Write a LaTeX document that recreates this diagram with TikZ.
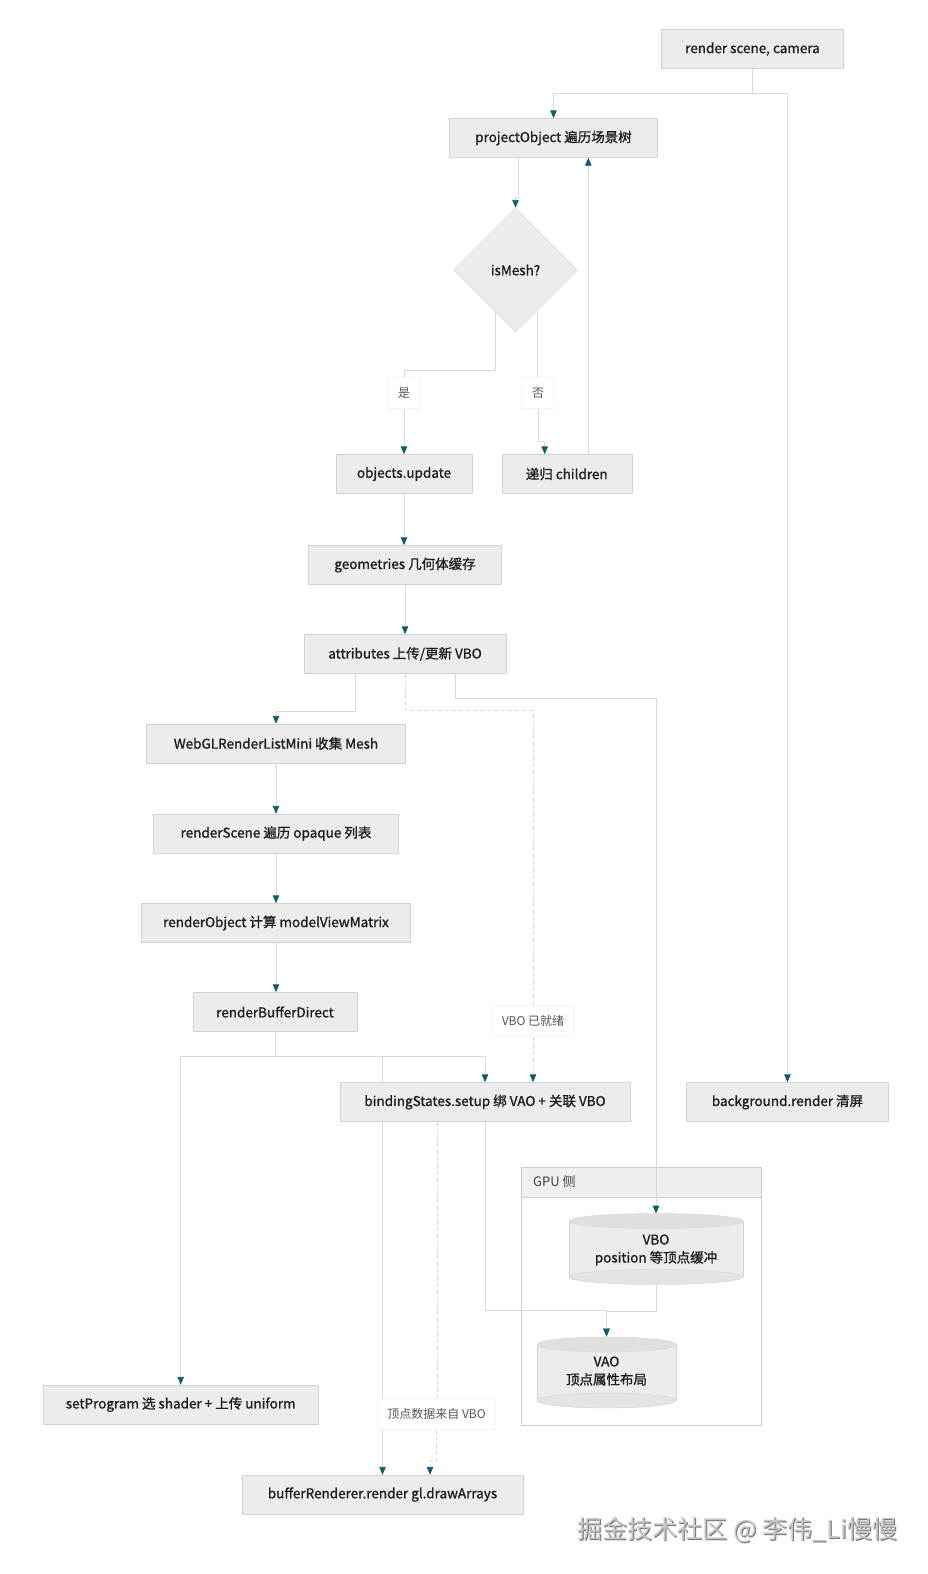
\documentclass[tikz,border=0pt]{standalone}
\usepackage{fontspec}
\setmainfont{Noto Sans CJK SC}
\newfontfamily\bxfont{Noto Sans CJK SC}[FakeBold=1.2]
\usetikzlibrary{arrows.meta,shapes.geometric}
\definecolor{boxfill}{HTML}{ECECEC}
\definecolor{boxline}{HTML}{D2D2D2}
\definecolor{lineC}{HTML}{D9D9D9}
\definecolor{tipC}{HTML}{0E5F66}
\definecolor{lblline}{HTML}{E2E2E2}
\definecolor{lbltext}{HTML}{555555}
\definecolor{grpline}{HTML}{CCCCCC}
\definecolor{hdrfill}{HTML}{EFEFEF}
\definecolor{cyltop}{HTML}{E0E0E0}
\definecolor{cylbot}{HTML}{E4E4E4}
\definecolor{txt}{HTML}{1E1E1E}
\pgfdeclarelayer{grp}
\pgfdeclarelayer{lines}
\pgfsetlayers{grp,lines,main}
\tikzset{
  box/.style={draw=boxline, fill=boxfill, minimum height=39pt, inner sep=0pt,
    font=\bxfont\fontsize{13.5}{16}\selectfont, text=txt},
  dia/.style={shape=diamond, draw=boxline, fill=boxfill, minimum width=124pt,
    minimum height=124pt, inner sep=0pt, aspect=1, font=\bxfont\fontsize{13.5}{16}\selectfont, text=txt},
  lbl/.style={draw=lblline, fill=white, rounded corners=2pt, minimum height=31pt,
    inner sep=0pt, font=\fontsize{12}{14}\selectfont, text=lbltext},
  cyltext/.style={inner sep=0pt, align=center, font=\bxfont\fontsize{13.5}{18}\selectfont, text=txt},
  ln/.style={draw=lineC, line width=0.9pt},
  conn/.style={ln, -{Triangle[length=8pt,width=6.5pt,color=tipC]}},
  dln/.style={ln, dash pattern=on 4pt off 3pt},
  dconn/.style={conn, dash pattern=on 4pt off 3pt},
}
\begin{document}
\begin{tikzpicture}[x=1pt,y=-1pt]
\useasboundingbox (0,0) rectangle (928,1574);
% nodes
\node[box, minimum width=182] (rsc) at (752.5,49) {render scene, camera};
\node[box, minimum width=208] (proj) at (553.5,138) {projectObject 遍历场景树};
\node[dia] (ism) at (515.5,270) {isMesh?};
\node[lbl, minimum width=32] (yes) at (404,393) {是};
\node[lbl, minimum width=32] (no) at (538,393) {否};
\node[box, minimum width=136] (upd) at (404,474) {objects.update};
\node[box, minimum width=130] (chd) at (566.7,474) {递归 children};
\node[box, minimum width=193] (geo) at (405,565) {geometries 几何体缓存};
\node[box, minimum width=202] (attr) at (405,654) {attributes 上传/更新 VBO};
\node[box, minimum width=259] (rl) at (276,743.5) {WebGLRenderListMini 收集 Mesh};
\node[box, minimum width=245] (rs) at (276,833.5) {renderScene 遍历 opaque 列表};
\node[box, minimum width=269] (ro) at (276,923) {renderObject 计算 modelViewMatrix};
\node[box, minimum width=164] (rbd) at (275,1012) {renderBufferDirect};
\node[lbl, minimum width=81] (rdy) at (533,1021) {VBO 已就绪};
\node[box, minimum width=290] (bs) at (485,1102) {bindingStates.setup 绑 VAO + 关联 VBO};
\node[box, minimum width=202] (bg) at (787.5,1102) {background.render 清屏};
\node[box, minimum width=275] (sp) at (180.7,1404.5) {setProgram 选 shader + 上传 uniform};
\node[lbl, minimum width=118] (src) at (436.5,1414) {顶点数据来自 VBO};
\node[box, minimum width=281] (br) at (382.5,1494.5) {bufferRenderer.render gl.drawArrays};
% GPU group
\begin{pgfonlayer}{grp}
\node[draw=grpline, minimum width=239.5, minimum height=258, inner sep=0pt, anchor=north west] (gpu) at (521,1167) {};
\node[draw=grpline, fill=hdrfill, minimum width=239.5, minimum height=30, inner sep=0pt, anchor=north west] (gpuh) at (521,1167) {};
\end{pgfonlayer}
\node[anchor=west, inner sep=0pt, font=\fontsize{13}{15}\selectfont, text=txt!85] (gput) at (533,1182) {GPU 侧};
% VBO cylinder
\fill[boxfill] (569,1221) rectangle (743,1277);
\draw[boxline] (569,1221) -- (569,1277) (743,1221) -- (743,1277);
\draw[boxline, fill=cylbot] (656,1277) ellipse [x radius=87, y radius=7.5];
\draw[boxline, fill=cyltop] (656,1221) ellipse [x radius=87, y radius=7.5];
\node[minimum width=174, minimum height=71.5, inner sep=0pt] (vbo) at (656,1249.5) {};
\node[cyltext] (vbot) at (656,1250) {VBO\\position 等顶点缓冲};
% VAO cylinder
\fill[boxfill] (537,1344.5) rectangle (676,1400.5);
\draw[boxline] (537,1344.5) -- (537,1400.5) (676,1344.5) -- (676,1400.5);
\draw[boxline, fill=cylbot] (606.5,1400.5) ellipse [x radius=69.5, y radius=7.5];
\draw[boxline, fill=cyltop] (606.5,1344.5) ellipse [x radius=69.5, y radius=7.5];
\node[minimum width=139, minimum height=71.5, inner sep=0pt] (vao) at (606.5,1372.5) {};
\node[cyltext] (vaot) at (606.5,1371) {VAO\\顶点属性布局};
% watermark
\node[font=\fontsize{25}{28}\selectfont, text=black!55, inner sep=0pt] (wm0) at (738.5,1531) {掘金技术社区 @ 李伟\_Li慢慢};
\node[font=\fontsize{25}{28}\selectfont, text=black!22, inner sep=0pt] (wm) at (737.5,1530) {掘金技术社区 @ 李伟\_Li慢慢};
% connectors
\begin{pgfonlayer}{lines}
\draw[conn] (rsc.south) -- ++(0,24.5) -| (proj.north);
\draw[conn] (rsc.south) -- ++(0,24.5) -| (bg.north);
\draw[conn] ([xshift=-35]proj.south) -- ++(0,40) -| (ism.north);
\draw[ln] (ism.245.7) -- ++(0,58) -| (yes.north);
\draw[conn] (yes.south) -- (upd.north);
\draw[ln] (ism.298.8) -- (ism.298.8 |- no.north);
\draw[conn] (no.south) -- ++(0,33) -| ([xshift=-22]chd.north);
\draw[conn] ([xshift=21.6]chd.north) -- ([xshift=21.6]chd.north |- proj.south);
\draw[conn] (upd.south) -- (geo.north -| upd.south);
\draw[conn] (geo.south) -- (attr.north);
\draw[conn] ([xshift=-50]attr.south) -- ++(0,37.5) -| (rl.north);
\draw[dln] (attr.south) -- ++(0,37) -| (rdy.north);
\draw[dconn] (rdy.south) -- (rdy.south |- bs.north);
\draw[conn] ([xshift=50]attr.south) -- ++(0,24.5) -| (vbo.north);
\draw[conn] (rl.south) -- (rs.north);
\draw[conn] (rs.south) -- (ro.north);
\draw[conn] (ro.south) -- (ro.south |- rbd.north);
\draw[conn] (rbd.south) -- ++(0,25) -| (sp.north);
\draw[conn] (rbd.south) -- ++(0,25) -| (bs.north);
\draw[conn] (rbd.south) -- ++(0,25) -| (br.north);
\draw[conn] (bs.south) -- ++(0,189) -| (vao.north);
\draw[conn] (vbo.south) -- ++(0,26) -| (vao.north);
\draw[dln] ([xshift=-48]bs.south) -- ([xshift=-48]bs.south |- src.north);
\draw[dconn] (src.south) -- ++(0,31) -| ([xshift=47.5]br.north);
\end{pgfonlayer}
\end{tikzpicture}
\end{document}
